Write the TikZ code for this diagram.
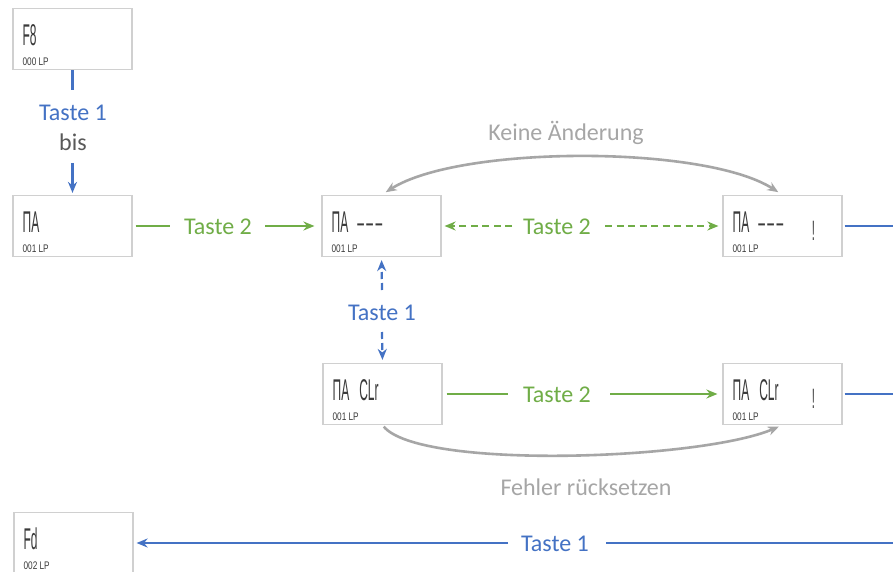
\documentclass[tikz,border=0pt]{standalone}
\usepackage{fontspec}
\setmainfont{Carlito}
\newfontfamily\lcdfont[FakeStretch=0.4]{Liberation Sans}
\newfontfamily\lcdsmallfont[FakeStretch=0.75]{Liberation Sans}
\usetikzlibrary{arrows.meta,calc}
\definecolor{tblue}{HTML}{4472C4}
\definecolor{tgreen}{HTML}{70AD47}
\definecolor{tgray}{HTML}{A6A6A6}
\definecolor{tdark}{HTML}{595959}
\definecolor{lcd}{HTML}{3A3A3A}
\definecolor{boxline}{HTML}{D0D0D0}
\begin{document}
\begin{tikzpicture}[x=1pt,y=-1pt,
  lcdbox/.style={draw=boxline, line width=1.2pt, minimum width=119pt, minimum height=61pt, inner sep=0pt},
  lcdbig/.style={font=\lcdfont\fontsize{30}{32}\selectfont, text=lcd, inner sep=0pt, anchor=base west},
  lcdsmall/.style={font=\lcdsmallfont\fontsize{11}{12}\selectfont, text=lcd, inner sep=0pt, anchor=base west},
  lcdmark/.style={font=\lcdfont\fontsize{28}{30}\selectfont, text=lcd, inner sep=0pt, anchor=base},
  lbl/.style={font=\fontsize{24}{26}\selectfont, inner sep=0pt, anchor=base},
  bline/.style={draw=tblue, line width=2.2pt},
  gline/.style={draw=tgreen, line width=2.2pt},
  grayarc/.style={draw=tgray, line width=2.6pt},
  tip/.style={-{Stealth[length=11pt,width=9pt]}},
  bothtip/.style={{Stealth[length=11pt,width=9pt]}-{Stealth[length=11pt,width=9pt]}},
  gdash/.style={dash pattern=on 7pt off 4.5pt},
  bdash/.style={dash pattern=on 7pt off 4pt}
]
\path[use as bounding box, fill=white] (0,0) rectangle (893,572);
\clip (0,0) rectangle (893,572);

% boxes
\node[lcdbox] (b0) at (72.5,39) {};
\node[lcdbox] (b1) at (72.5,226) {};
\node[lcdbox] (b2) at (381.5,226) {};
\node[lcdbox] (b3) at (782.5,226) {};
\node[lcdbox] (b4) at (382.5,394) {};
\node[lcdbox] (b5) at (782.5,394) {};
\node[lcdbox] (b6) at (73.5,543) {};

% box contents
\node[lcdbig] (d0) at ($(b0.north west)+(10,38)$) {F8};
\node[lcdsmall] (s0) at ($(b0.south west)+(10,-5)$) {000 LP};
\node[lcdbig] (d1) at ($(b1.north west)+(10,38)$) {ΠA};
\node[lcdsmall] (s1) at ($(b1.south west)+(10,-5)$) {001 LP};
\node[lcdbig] (d2) at ($(b2.north west)+(10,38)$) {ΠA\hspace{9pt}–\hspace{2.5pt}–\hspace{2.5pt}–};
\node[lcdsmall] (s2) at ($(b2.south west)+(10,-5)$) {001 LP};
\node[lcdbig] (d3) at ($(b3.north west)+(10,38)$) {ΠA\hspace{9pt}–\hspace{2.5pt}–\hspace{2.5pt}–};
\node[lcdsmall] (s3) at ($(b3.south west)+(10,-5)$) {001 LP};
\node[lcdbig] (d4) at ($(b4.north west)+(10,38)$) {ΠA\hspace{10pt}CLr};
\node[lcdsmall] (s4) at ($(b4.south west)+(10,-5)$) {001 LP};
\node[lcdbig] (d5) at ($(b5.north west)+(10,38)$) {ΠA\hspace{10pt}CLr};
\node[lcdsmall] (s5) at ($(b5.south west)+(10,-5)$) {001 LP};
\node[lcdbig] (d6) at ($(b6.north west)+(10,38)$) {Fd};
\node[lcdsmall] (s6) at ($(b6.south west)+(10,-5)$) {002 LP};
\node[lcdmark] (e3) at ($(b3.north west)+(91,46)$) {!};
\node[lcdmark] (e5) at ($(b5.north west)+(91,46)$) {!};

% labels
\node[lbl, text=tblue] (tA) at (73,121) {Taste 1};
\node[lbl, text=tdark] (tAb) at (73,151) {bis};
\node[lbl, text=tgreen] (tB) at (218,234) {Taste 2};
\node[lbl, text=tgreen] (tC) at (557,234) {Taste 2};
\node[lbl, text=tblue] (tD) at (382,320) {Taste 1};
\node[lbl, text=tgreen] (tE) at (557,402) {Taste 2};
\node[lbl, text=tblue] (tF) at (555,551) {Taste 1};
\node[lbl, text=tgray] (tG) at (566,141) {Keine Änderung};
\node[lbl, text=tgray] (tH) at (586,495) {Fehler rücksetzen};

% free ends
\coordinate (cA1) at (72.5,90);
\coordinate (cA2) at (72.5,163);
\coordinate (cB1) at (170,226);
\coordinate (cB2) at (265,226);
\coordinate (cC1) at (512,226);
\coordinate (cC2) at (605,226);
\coordinate (cR1) at (893,226);
\coordinate (cD1) at (382,290);
\coordinate (cD2) at (382,332);
\coordinate (cE1) at (508,394);
\coordinate (cE2) at (610,394);
\coordinate (cR2) at (893,394);
\coordinate (cF0) at (893,543);
\coordinate (cF1) at (606,543);
\coordinate (cF2) at (508,543);

% connectors
\draw[bline] (b0.south) -- (cA1);
\draw[bline, tip, shorten >=2pt] (cA2) -- (b1.north);
\draw[gline, shorten <=3pt] (b1.east) -- (cB1);
\draw[gline, tip, shorten >=7pt] (cB2) -- (b2.west);
\draw[gline, gdash, tip, shorten >=3pt] (cC1) -- (b2.east);
\draw[gline, gdash, tip, shorten >=4pt] (cC2) -- (b3.west);
\draw[bline, shorten <=2pt] (b3.east) -- (cR1);
\draw[bline, bdash, tip, shorten >=3pt] (cD1) -- (b2.south);
\draw[bline, bdash, tip, shorten >=3pt] (cD2) -- (b4.north);
\draw[gline, shorten <=4pt] (b4.east) -- (cE1);
\draw[gline, tip, shorten >=5pt] (cE2) -- (b5.west);
\draw[bline, shorten <=2pt] (b5.east) -- (cR2);
\draw[bline] (cF0) -- (cF1);
\draw[bline, tip, shorten >=3pt] (cF2) -- (b6.east);

% gray arcs
\draw[grayarc, bothtip, shorten <=5pt, shorten >=5pt] (b2.north) .. controls (460,145) and (705,145) .. (b3.north);
\draw[grayarc, tip, shorten <=2pt, shorten >=4pt] (b4.south) .. controls (420,470) and (700,460) .. (b5.south);
\end{tikzpicture}
\end{document}
